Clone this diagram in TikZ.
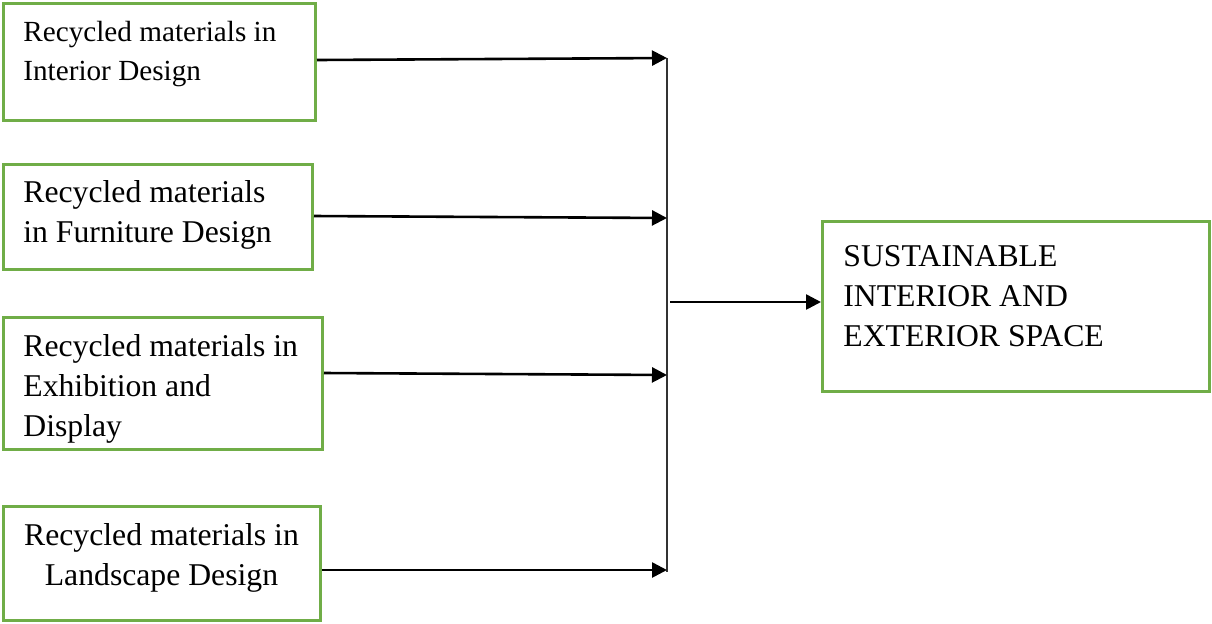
\documentclass[tikz,border=0pt]{standalone}
\usepackage{fontspec}
\setmainfont{Liberation Serif}
\usetikzlibrary{arrows.meta}
\definecolor{boxgreen}{HTML}{70AD47}
\begin{document}
\begin{tikzpicture}[x=0.5pt,y=-0.5pt,
	box/.style={draw=boxgreen, line width=1.5pt, inner sep=0pt},
	lbl/.style={inner sep=0pt, align=left, font=\fontsize{15.85}{20}\selectfont},
	arr/.style={line width=1.3pt, -{Triangle[length=7.5pt,width=7.5pt]}}]
		\useasboundingbox (0,0) rectangle (1212,623);
		% boxes
		\node[box, minimum width=156pt, minimum height=58.5pt] (interior) at (159.5,62) {};
		\node[box, minimum width=154.5pt, minimum height=52.5pt] (furniture) at (158,217) {};
		\node[box, minimum width=159.5pt, minimum height=66pt] (exhibition) at (163,383.5) {};
		\node[box, minimum width=158.5pt, minimum height=57pt] (landscape) at (162,563.5) {};
		\node[box, minimum width=193.5pt, minimum height=85pt] (space) at (1016,306.5) {};
		% texts
		\node[lbl, anchor=north west, font=\fontsize{14.6}{19.25}\selectfont] (interiortxt) at (23,21) {Recycled materials in\\Interior Design};
		\node[lbl, anchor=north west] (furnituretxt) at (23,180) {Recycled materials\\in Furniture Design};
		\node[lbl, anchor=north west] (exhibitiontxt) at (23,334) {Recycled materials in\\Exhibition and\\Display};
		\node[lbl, anchor=north, align=center] (landscapetxt) at (161.5,523) {Recycled materials in\\Landscape Design};
		\node[lbl, anchor=north west] (spacetxt) at (843,245) {SUSTAINABLE\\INTERIOR AND\\EXTERIOR SPACE};
		% bus
		\coordinate (j1) at (667,58);
		\coordinate (j2) at (667,218);
		\coordinate (j3) at (667,375);
		\coordinate (j4) at (667,570);
		\coordinate (busend) at (667,572);
		\coordinate (src) at (670,302);
		\draw[line width=0.7pt, black!80] (j1) -- (busend);
		\draw[arr] ([yshift=1pt]interior.east) -- (j1);
		\draw[arr] ([yshift=0.5pt]furniture.east) -- (j2);
		\draw[arr] ([yshift=5.25pt]exhibition.east) -- (j3);
		\draw[arr] ([yshift=-3.25pt]landscape.east) -- (j4);
		\draw[arr] (src) -- (src -| space.west);
	\end{tikzpicture}
\end{document}
